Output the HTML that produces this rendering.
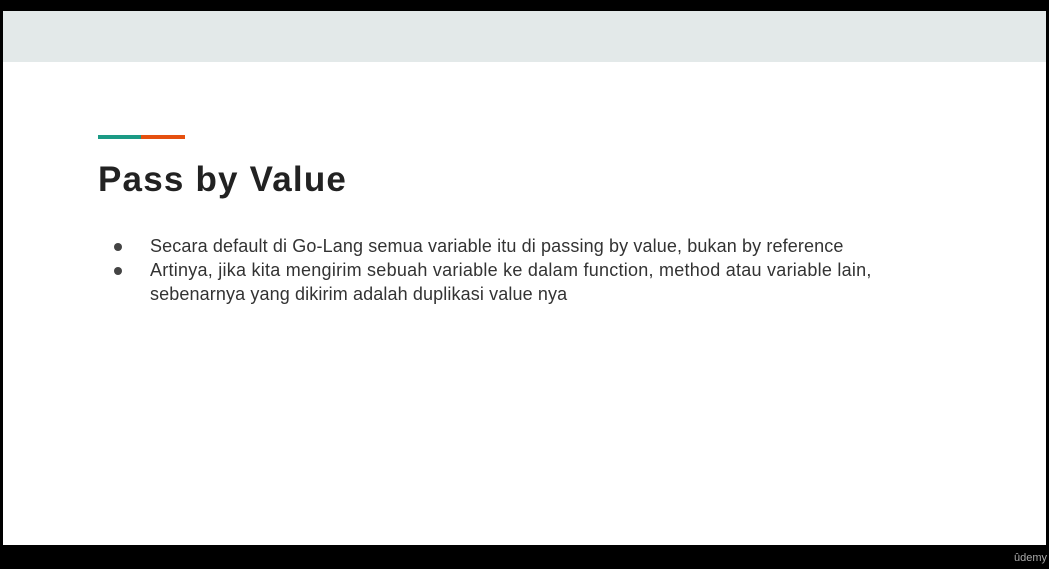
<!DOCTYPE html>
<html><head><style>
body{margin:0;width:1049px;height:569px;background:#000;position:relative;overflow:hidden;font-family:"Liberation Sans",sans-serif}
.slide{position:absolute;left:3px;top:11px;width:1043px;height:534px;background:#fff}
.band{position:absolute;left:0;top:0;width:100%;height:51px;background:#e3e9e9}
.a1{position:absolute;left:95px;top:124px;width:43px;height:4px;background:#1b9a85}
.a2{position:absolute;left:138px;top:124px;width:44px;height:4px;background:#e5500f}
h1{position:absolute;left:95px;top:149px;margin:0;font-size:35px;font-weight:bold;color:#222;letter-spacing:1.2px}
.t{position:absolute;left:147px;font-size:18px;color:#333;white-space:nowrap;letter-spacing:0.12px}
.d{position:absolute;left:111px;width:8px;height:8px;border-radius:50%;background:#444}
.u{position:absolute;right:2px;top:552px;color:#aaa;font-size:11px}
</style></head><body>
<div class="slide">
<div class="band"></div>
<div class="a1"></div><div class="a2"></div>
<h1>Pass by Value</h1>
<div class="d" style="top:232px"></div>
<div class="t" style="top:225px">Secara default di Go-Lang semua variable itu di passing by value, bukan by reference</div>
<div class="d" style="top:256px"></div>
<div class="t" style="top:249px;letter-spacing:0.25px">Artinya, jika kita mengirim sebuah variable ke dalam function, method atau variable lain,</div>
<div class="t" style="top:273px">sebenarnya yang dikirim adalah duplikasi value nya</div>
</div>
<div class="u">ûdemy</div>
</body></html>
